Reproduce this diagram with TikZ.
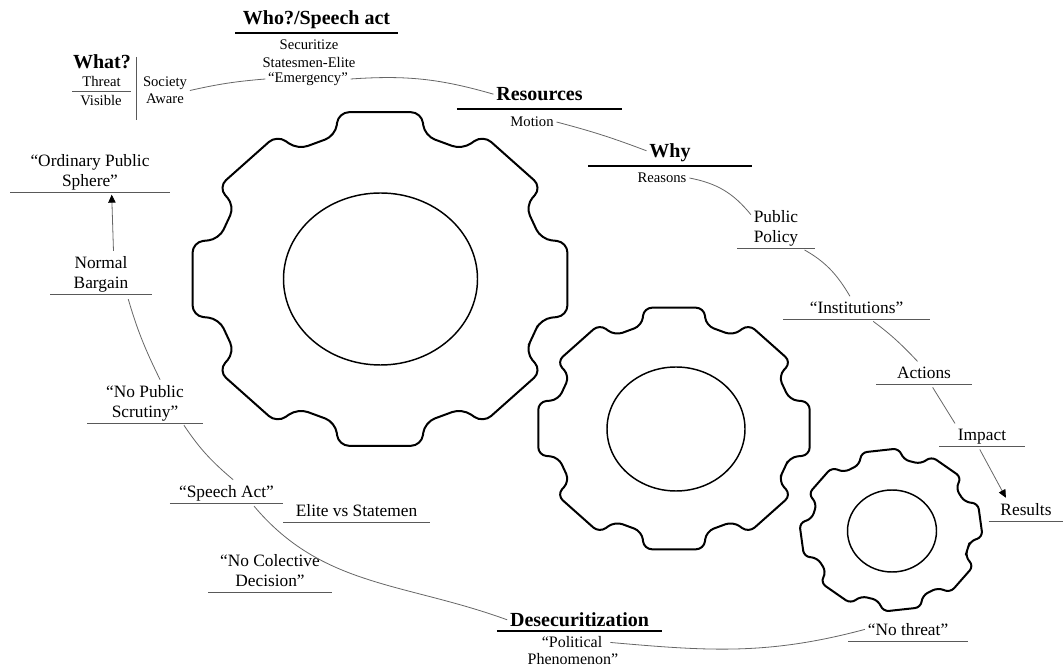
\documentclass[tikz,border=0pt]{standalone}
\usepackage{fontspec}
\setmainfont{Liberation Serif}
\usetikzlibrary{arrows.meta}

\tikzset{
  gearline/.style={line width=1.5pt, line join=round},
  holeline/.style={line width=1.1pt},
  link/.style={draw=black!60, line width=0.6pt},
  rule/.style={draw=black!65, line width=0.7pt},
  pointer/.style={-{Triangle[length=6pt, width=5.5pt, black]}},
  heading/.style={font=\bfseries\fontsize{15}{18}\selectfont, anchor=south, inner xsep=2pt, inner ysep=6pt, text depth=0pt},
  tag/.style={font=\fontsize{13}{15}\selectfont, align=center, anchor=south, inner xsep=2pt, inner ysep=4pt, text depth=0pt},
  note/.style={font=\fontsize{11}{12.5}\selectfont, align=center, inner sep=2pt},
  underline/.style={append after command={([xshift=-#1]\tikzlastnode.south) edge[rule] ([xshift=#1]\tikzlastnode.south)}},
  headrule/.style={append after command={([xshift=-#1]\tikzlastnode.south) edge[draw=black, line width=1.1pt] ([xshift=#1]\tikzlastnode.south)}},
}

% cog: centre, tip radius, root radius, tip half-angle, root half-angle, turn, corner
\newcommand{\cogwheel}[7]{%
  \draw[gearline, rounded corners=#7, shift={#1}, yscale=0.89, rotate=#6]
    (-22.5:{#3*cos(22.5-#5)})
    \foreach \a in {0,45,...,315}{
      -- (\a-#5:#3) -- (\a-#4:#2) -- (\a+#4:#2) -- (\a+#5:#3)
    } -- cycle;
}

\begin{document}
\begin{tikzpicture}[x=0.75pt, y=0.75pt]
\useasboundingbox (0,0) rectangle (1063,667);

% Gears
\cogwheel{(380,388)}{192}{167}{12.5}{15.5}{0}{8pt}
\draw[holeline] (380.5,388) ellipse [x radius=97, y radius=86];

\cogwheel{(674,238.5)}{139}{120}{12.5}{15.5}{0}{6pt}
\draw[holeline] (676,238) ellipse [x radius=69, y radius=62];

\cogwheel{(891,137)}{92}{80}{12}{16}{7}{4.5pt}
\draw[holeline] (892,136) ellipse [x radius=44.5, y radius=41];

% What? block
\node[heading, anchor=center, inner ysep=2pt] (what) at (102,605) {What?};
\node[tag, font=\fontsize{11}{12.5}\selectfont, inner ysep=3pt, underline=22pt] (threat) at (101.5,576) {Threat};
\node[note] (visible) at (101,566) {Visible};
\draw[rule] (136,610) -- (136,547);
\node[note] (society) at (165,576.5) {Society\\Aware};

% Who?/Speech act
\node[heading, headrule=61pt] (who) at (316.5,634) {Who?/Speech act};
\node[note] (securitize) at (309,622) {Securitize};
\node[note] (statesmen) at (309,605) {Statesmen-Elite};
\node[note] (emergency) at (308,588) {“Emergency”};

% Resources and Why
\node[heading, headrule=62pt] (resources) at (539.5,558) {Resources};
\node[note] (motion) at (532,545) {Motion};
\node[heading, headrule=61.5pt] (why) at (670,501) {Why};
\node[note] (reasons) at (662,489) {Reasons};

% Right hand chain
\node[tag, underline=29pt] (policy) at (776,419) {Public\\Policy};
\node[tag, underline=55pt] (institutions) at (856.5,348) {“Institutions”};
\node[tag, underline=36pt] (actions) at (924,283) {Actions};
\node[tag, underline=32pt] (impact) at (982,221) {Impact};
\node[tag, underline=28pt] (results) at (1026,146) {Results};
\node[tag, underline=45pt] (nothreat) at (908,26) {“No threat”};

% Desecuritization
\node[heading, inner ysep=3pt, headrule=62pt] (desec) at (579.5,36) {Desecuritization};
\node[note, font=\fontsize{12}{13.5}\selectfont] (political) at (572,25) {“Political};
\node[note, font=\fontsize{12}{13.5}\selectfont] (phenomenon) at (573,8) {Phenomenon”};

% Left hand chain
\node[tag, underline=55pt] (elite) at (356.5,145) {Elite vs Statemen};
\node[tag, underline=42.5pt] (speech) at (226.5,164) {“Speech Act”};
\node[tag, underline=46.5pt] (colective) at (270,75) {“No Colective\\Decision”};
\node[tag, underline=43.5pt] (scrutiny) at (145,244) {“No Public\\Scrutiny”};
\node[tag, underline=38pt] (bargain) at (101,373) {Normal\\Bargain};
\node[tag, underline=60pt] (sphere) at (90,475) {“Ordinary Public\\Sphere”};

% Connectors
\draw[link] (society.east) to[bend left=4] (emergency.west);
\draw[link] (emergency.east) to[bend left=10] (resources.west);
\draw[link] (motion.east) to[bend left=3] (why.west);
\draw[link] (reasons.east) to[bend left=20] (policy.155);
\draw[link, shorten <=3pt] (policy.south east) to[bend left=15] (institutions.120);
\draw[link, shorten <=3pt] (institutions.-40) to[bend left=5] (actions.120);
\draw[link, shorten <=3pt] (actions.-60) -- (impact.north west);
\draw[link, pointer, shorten <=3pt] (impact.-110) -- (results.150);
\draw[link, shorten <=4pt] (political.east) to[out=-5, in=195] (nothreat.west);
\draw[link, shorten <=3pt] (speech.-25) to[out=-50, in=160] (desec.west);
\draw[link, shorten <=2pt] (scrutiny.-30) to[bend right=8] (speech.60);
\draw[link, shorten <=4pt] (bargain.-40) to[bend right=5] (scrutiny.55);
\draw[link, pointer, shorten >=2pt] (bargain.60) -- (sphere.-45);
\end{tikzpicture}
\end{document}
